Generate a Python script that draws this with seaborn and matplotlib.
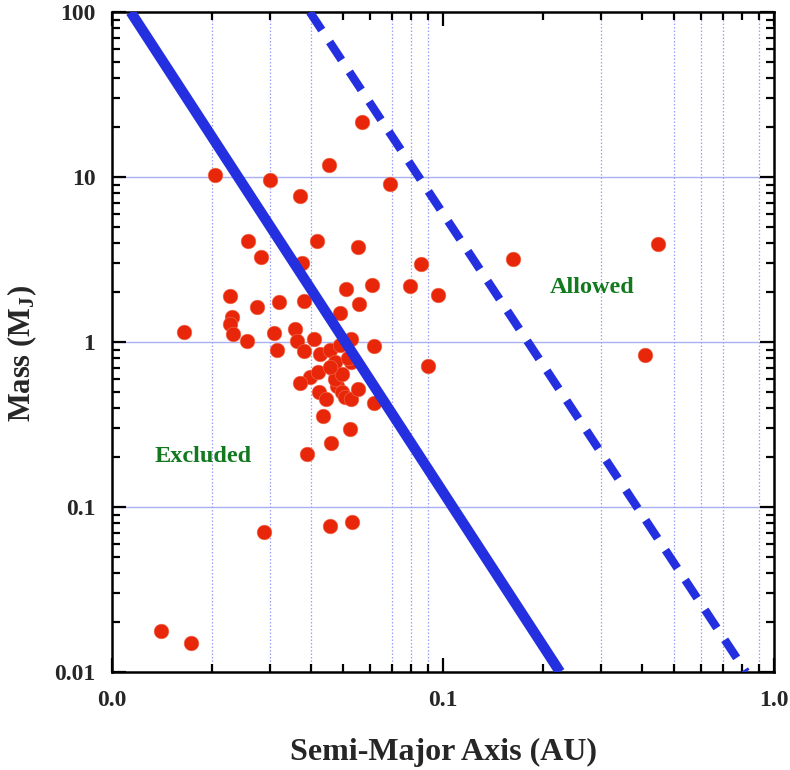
import matplotlib
matplotlib.use("Agg")
import matplotlib.pyplot as plt
import matplotlib.ticker as mticker
import seaborn as sns
import numpy as np
import pandas as pd

# ---- data ----
semi_major_axis = [0.0141, 0.0173, 0.0165, 0.0205, 0.0300, 0.0370, 0.0569, 0.0453, 0.0690,
                   0.1626, 0.447, 0.407, 0.0900, 0.0966, 0.0859, 0.0795, 0.0257, 0.0415,
                   0.0552, 0.0282, 0.0374, 0.0609, 0.0509, 0.0557, 0.0490, 0.0228, 0.0274,
                   0.0319, 0.0380, 0.0230, 0.0227, 0.0232, 0.0255, 0.0309, 0.0357, 0.0361,
                   0.0407, 0.0316, 0.0381, 0.0425, 0.0456, 0.0490, 0.0528, 0.0620, 0.0526,
                   0.0466, 0.0396, 0.0370, 0.0423, 0.0443, 0.0478, 0.0494, 0.0506, 0.0528,
                   0.0554, 0.0620, 0.0433, 0.0524, 0.0458, 0.0387, 0.0288, 0.0455, 0.0531,
                   0.0472, 0.0517, 0.0420, 0.0472, 0.0495, 0.0456]
mass_mj = [0.0177, 0.0150, 1.15, 10.3, 9.6, 7.7, 21.5, 11.8, 9.1,
           3.18, 3.93, 0.83, 0.716, 1.93, 2.97, 2.18, 4.1, 4.1,
           3.77, 3.29, 3.03, 2.22, 2.10, 1.71, 1.50, 1.91, 1.62,
           1.74, 1.78, 1.42, 1.28, 1.12, 1.02, 1.13, 1.20, 1.02,
           1.05, 0.90, 0.88, 0.846, 0.90, 0.96, 1.05, 0.95, 0.76,
           0.69, 0.616, 0.562, 0.50, 0.45, 0.54, 0.50, 0.466, 0.45,
           0.517, 0.425, 0.356, 0.296, 0.243, 0.21, 0.0705, 0.0767, 0.081,
           0.76, 0.80, 0.66, 0.60, 0.64, 0.71]

solid_limit_a = [0.01139, 0.2257]
solid_limit_m = [100.0, 0.01]
dashed_limit_a = [0.0396, 0.823]
dashed_limit_m = [100.0, 0.01]

x_ticks = [0.01, 0.1, 1.0]
x_tick_labels = ["0.0", "0.1", "1.0"]
y_ticks = [0.01, 0.1, 1, 10, 100]
y_tick_labels = ["0.01", "0.1", "1", "10", "100"]
x_grid_minor = [0.02, 0.03, 0.04, 0.07, 0.08, 0.09, 0.3, 0.5, 0.6, 0.7, 0.9]

planets = pd.DataFrame({"a": semi_major_axis, "m": mass_mj})

# ---- style ----
sns.set_style("ticks")
plt.rcParams["font.family"] = ["Liberation Serif", "DejaVu Serif"]
plt.rcParams["font.weight"] = "bold"
plt.rcParams["mathtext.fontset"] = "custom"
plt.rcParams["mathtext.rm"] = "Liberation Serif:bold"
plt.rcParams["mathtext.bf"] = "Liberation Serif:bold"
plt.rcParams["mathtext.it"] = "Liberation Serif:bold"

fig = plt.figure(figsize=(7.9, 7.7), dpi=100)
ax = fig.add_axes([112 / 790, 1 - 672 / 770, 662 / 790, 660 / 770])
ax.set_xscale("log")
ax.set_yscale("log")
ax.set_xlim(0.01, 1.0)
ax.set_ylim(0.01, 100)

# grid lines
for yv in [0.1, 1, 10]:
    ax.axhline(yv, color="#a9b1f2", lw=1.0, zorder=0)
for xv in x_grid_minor:
    ax.axvline(xv, color="#9c9ff5", lw=0.9, ls=(0, (1.2, 1.6)), zorder=0)

sns.scatterplot(data=planets, x="a", y="m", ax=ax, color="#e8260a", s=112,
                edgecolor="#f07050", linewidth=0.4, zorder=2, legend=False)

sns.lineplot(x=solid_limit_a, y=solid_limit_m, ax=ax, color="#2430e0", lw=7.5,
             sort=False, zorder=3, solid_capstyle="butt")
sns.lineplot(x=dashed_limit_a, y=dashed_limit_m, ax=ax, color="#2430e0", lw=6.0,
             sort=False, zorder=3, linestyle=(0, (2.6, 1.7)), dash_capstyle="butt")

ax.text(0.725, 0.583, "Allowed", transform=ax.transAxes, color="#12791f",
        fontsize=17.5, fontweight="bold", ha="center", va="center")
ax.text(0.1374, 0.3267, "Excluded", transform=ax.transAxes, color="#12791f",
        fontsize=17.5, fontweight="bold", ha="center", va="center")

# ticks
ax.xaxis.set_major_locator(mticker.FixedLocator(x_ticks))
ax.xaxis.set_major_formatter(mticker.FixedFormatter(x_tick_labels))
ax.yaxis.set_major_locator(mticker.FixedLocator(y_ticks))
ax.yaxis.set_major_formatter(mticker.FixedFormatter(y_tick_labels))
ax.xaxis.set_minor_locator(mticker.LogLocator(base=10, subs=np.arange(2, 10)))
ax.yaxis.set_minor_locator(mticker.LogLocator(base=10, subs=np.arange(2, 10)))
ax.xaxis.set_minor_formatter(mticker.NullFormatter())
ax.yaxis.set_minor_formatter(mticker.NullFormatter())
ax.tick_params(which="both", direction="in", top=True, right=True, width=1.6, color="black")
ax.tick_params(which="major", length=10)
ax.tick_params(which="minor", length=5.5)
ax.tick_params(axis="y", which="major", pad=12, labelsize=17)
ax.tick_params(axis="x", which="major", pad=13, labelsize=17)
for lab in ax.get_xticklabels() + ax.get_yticklabels():
    lab.set_fontweight("bold")
for sp in ax.spines.values():
    sp.set_linewidth(1.8)
    sp.set_color("black")

ax.set_xlabel("Semi-Major Axis (AU)", fontsize=23, fontweight="bold")
ax.set_ylabel(r"Mass (M$_{\mathbf{J}}$)", fontsize=22, fontweight="bold")
ax.xaxis.set_label_coords(0.5, -0.100)
ax.yaxis.set_label_coords(-0.111, 0.483)

fig.savefig("out.png", dpi=100)
